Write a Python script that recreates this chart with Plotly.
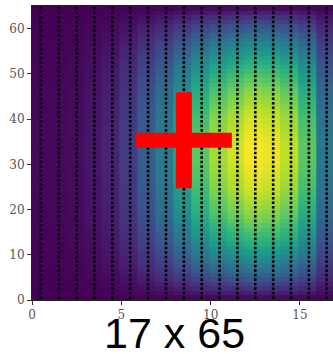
import numpy as np
import plotly.graph_objects as go

# grid size
n_cols = 17
n_rows = 65

# column intensity profile (read across the brightest row)
col_profile = [0.02, 0.02, 0.03, 0.06, 0.10, 0.18, 0.30, 0.42, 0.58, 0.74,
               0.86, 0.93, 0.99, 0.97, 0.90, 0.74, 0.40]

# row intensity profile (read along the brightest column, bottom to top)
row_profile = [0.03, 0.09, 0.15, 0.21, 0.27, 0.32, 0.37, 0.42, 0.47, 0.51,
               0.55, 0.59, 0.63, 0.67, 0.70, 0.73, 0.76, 0.79, 0.82, 0.84,
               0.86, 0.88, 0.90, 0.92, 0.94, 0.95, 0.96, 0.97, 0.98, 0.99,
               1.00, 1.00, 1.00, 1.00, 1.00, 0.99, 0.98, 0.97, 0.96, 0.95,
               0.94, 0.92, 0.90, 0.88, 0.86, 0.84, 0.82, 0.79, 0.76, 0.73,
               0.70, 0.67, 0.63, 0.59, 0.55, 0.51, 0.47, 0.42, 0.37, 0.32,
               0.27, 0.21, 0.15, 0.09, 0.03]

# target marker (red plus)
target_x = 8.5
target_y = 35.3

title_text = "17 x 65"
x_ticks = [0, 5, 10, 15]
y_ticks = [0, 10, 20, 30, 40, 50, 60]

x_view = [0, 16.85]
y_view = [0, n_rows]

# sample points at cell centres; shaded cells sit slightly left of them
xc = np.arange(n_cols) + 0.5
yc = np.arange(n_rows) + 0.5
cell_shift = -0.1
z = np.outer(np.array(row_profile), np.array(col_profile))

gx, gy = np.meshgrid(xc, yc)

fig = go.Figure()
fig.add_trace(go.Heatmap(x=xc + cell_shift, y=yc, z=z, colorscale="Viridis",
                         zmin=0, zmax=1, zsmooth=False, xgap=0.001, ygap=0.001,
                         showscale=False, hoverinfo="skip"))
fig.add_trace(go.Scatter(x=gx.ravel(), y=gy.ravel(), mode="markers",
                         marker=dict(symbol="square", size=2.6, color="black",
                                     line=dict(width=0)),
                         hoverinfo="skip", showlegend=False))

# plus marker: pixel-sized bars anchored at the target point
half_len = 48
half_thick = 8
fig.add_shape(type="rect", xref="x", yref="y", xsizemode="pixel", ysizemode="pixel",
              xanchor=target_x, yanchor=target_y,
              x0=-half_len, x1=half_len, y0=-half_thick + 0.5, y1=half_thick - 0.5,
              fillcolor="#ff0000", line=dict(width=0))
fig.add_shape(type="rect", xref="x", yref="y", xsizemode="pixel", ysizemode="pixel",
              xanchor=target_x, yanchor=target_y,
              x0=-half_thick, x1=half_thick, y0=-half_len, y1=half_len,
              fillcolor="#ff0000", line=dict(width=0))

axis_common = dict(showgrid=False, zeroline=False, ticks="outside", ticklen=4,
                   tickwidth=1, tickcolor="#333", showline=True, linecolor="#222",
                   linewidth=1, mirror=True,
                   tickfont=dict(family="DejaVu Serif", size=12, color="#555"))
fig.update_xaxes(range=x_view, tickvals=x_ticks, **axis_common)
fig.update_yaxes(range=y_view, tickvals=y_ticks, **axis_common)

fig.add_annotation(text=title_text, xref="paper", yref="paper", x=0.475, y=-0.112,
                   xanchor="center", yanchor="middle", showarrow=False,
                   font=dict(family="Liberation Sans", size=43, color="black"))

fig.update_layout(width=333, height=354, margin=dict(l=32, r=0, t=6, b=54),
                  paper_bgcolor="white", plot_bgcolor="white", showlegend=False)

fig.write_html("out.html")
